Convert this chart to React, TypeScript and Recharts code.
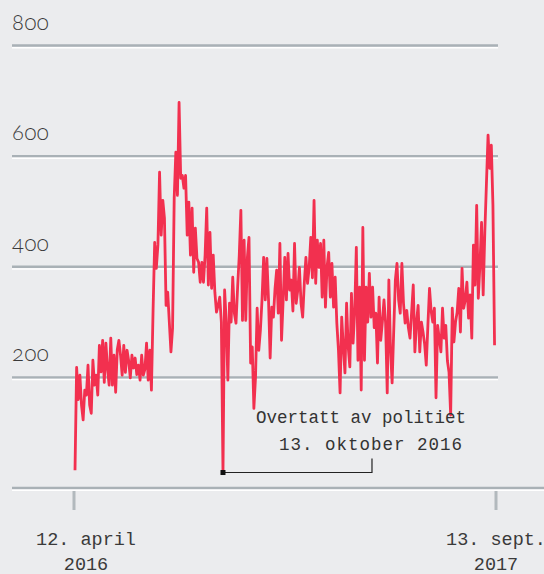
import React from 'react'
import { LineChart, Line, XAxis, YAxis, ReferenceDot, CartesianGrid } from 'recharts'

// counts, one value every second day from 12. april 2016
const STEP_DAYS = 2
const COUNTS = [
  32, 218, 160, 204, 150, 123, 177, 168, 222, 150,
  135, 231, 186, 204, 168, 258, 210, 267, 191, 262,
  215, 186, 271, 186, 240, 173, 250, 267, 240, 204,
  258, 209, 249, 230, 199, 240, 217, 235, 205, 222,
  195, 240, 204, 215, 262, 195, 249, 177, 320, 444,
  397, 440, 571, 457, 520, 488, 330, 354, 300, 246,
  289, 524, 607, 529, 697, 560, 565, 542, 565, 457,
  517, 421, 506, 390, 470, 415, 408, 372, 408, 372,
  421, 506, 367, 462, 361, 421, 354, 318, 330, 345,
  300, 28, 358, 300, 195, 334, 300, 381, 316, 298,
  363, 420, 502, 303, 448, 303, 417, 453, 226, 255,
  144, 200, 325, 249, 285, 340, 417, 340, 415, 340,
  235, 327, 309, 360, 394, 316, 442, 267, 340, 417,
  340, 424, 358, 376, 320, 442, 334, 358, 399, 334,
  309, 370, 417, 370, 399, 453, 380, 520, 370, 448,
  399, 442, 345, 448, 327, 400, 426, 345, 406, 327,
  381, 298, 250, 172, 309, 255, 208, 334, 255, 219,
  352, 262, 320, 435, 231, 363, 177, 471, 231, 363,
  300, 388, 309, 363, 290, 316, 226, 345, 267, 300,
  340, 298, 172, 376, 250, 190, 285, 376, 406, 340,
  316, 406, 334, 298, 321, 290, 271, 318, 367, 246,
  300, 330, 246, 300, 282, 260, 222, 294, 361, 320,
  300, 325, 163, 294, 270, 246, 325, 271, 294, 230,
  209, 132, 325, 264, 300, 318, 361, 282, 397, 325,
  340, 372, 307, 349, 271, 439, 367, 511, 343, 403,
  480, 349, 462, 550, 638, 578, 620, 511, 258,
]

const Y_TICKS = [0, 200, 400, 600, 800]
const X_TICK_DAYS = [0, 519]
const X_TICK_TOP = ['12. april', '13. sept.']
const X_TICK_BOTTOM = ['2016', '2017']

// 13. oktober 2016
const NOTE_DAY = 182
const NOTE_LINES = ['Overtatt av politiet', '13. oktober 2016']

const data = COUNTS.map((v, i) => ({ day: i * STEP_DAYS, v }))
const noteValue = COUNTS[NOTE_DAY / STEP_DAYS]

const RED = '#f2304f'
const GRID = '#a9b1b6'
const MONO = '"Liberation Mono", "DejaVu Sans Mono", monospace'
const GRID_LEFT = 12
const GRID_RIGHT = 498
const PLOT_BOTTOM = 488

// grid lines run out to the labels on the left; the zero line goes to the edge
function GridLine(props: any) {
  const { y1 } = props
  const right = Math.abs(y1 - PLOT_BOTTOM) < 1 ? 544 : GRID_RIGHT
  return (
    <g>
      <line x1={GRID_LEFT} x2={right} y1={y1} y2={y1} stroke={GRID} strokeWidth={2.5} />
      <line x1={GRID_LEFT} x2={right} y1={y1 + 2.2} y2={y1 + 2.2} stroke="#ffffff" strokeWidth={1.5} />
    </g>
  )
}

function YTick(props: any) {
  const { y, payload } = props
  const v = payload.value
  if (v === 0) return <g />
  return (
    <text
      x={GRID_LEFT}
      y={y - 16}
      fill="#3a3a3a"
      fontSize={22}
      fontWeight={300}
      textAnchor="start"
      style={{ fontFamily: 'Lato, "Open Sans", sans-serif', fontVariantNumeric: 'oldstyle-nums', letterSpacing: 0.5 }}
    >
      {v}
    </text>
  )
}

function XTick(props: any) {
  const { x, y, payload } = props
  const i = X_TICK_DAYS.indexOf(payload.value)
  // first label sits a little right of its tick in the original
  const cx = i === 0 ? x + 11 : x - 1
  return (
    <g>
      <line x1={x - 1} x2={x - 1} y1={y + 3} y2={y + 22} stroke="#b2b9bd" strokeWidth={3} />
      <text x={cx} y={y + 57} textAnchor="middle" fill="#3a3a3a" fontSize={18.5} style={{ fontFamily: MONO }}>
        {X_TICK_TOP[i]}
      </text>
      <text x={cx} y={y + 82} textAnchor="middle" fill="#3a3a3a" fontSize={18.5} style={{ fontFamily: MONO }}>
        {X_TICK_BOTTOM[i]}
      </text>
    </g>
  )
}

function NoteMarker(props: any) {
  const { cx, cy } = props
  const ex = cx + 149
  return (
    <g>
      <path d={`M${cx},${cy} H${ex} V${cy - 14}`} fill="none" stroke="#222" strokeWidth={1.2} />
      <rect x={cx - 2.5} y={cy - 2.5} width={5} height={5} fill="#111" />
      <text x={cx + 138} y={cy - 50} textAnchor="middle" fill="#333" fontSize={17.5} style={{ fontFamily: MONO }}>
        {NOTE_LINES[0]}
      </text>
      <text
        x={cx + 148}
        y={cy - 23}
        textAnchor="middle"
        fill="#333"
        fontSize={17.5}
        style={{ fontFamily: MONO, letterSpacing: 1 }}
      >
        {NOTE_LINES[1]}
      </text>
    </g>
  )
}

export default function App() {
  return (
    <div style={{ position: 'fixed', inset: 0, background: '#ebecee' }}>
      <LineChart
        width={544}
        height={574}
        data={data}
        margin={{ top: 45.5, right: 47, bottom: 0, left: 12 }}
      >
        <CartesianGrid vertical={false} horizontal={(p: any) => <GridLine key={p.key} {...p} />} />
        <YAxis
          type="number"
          domain={[0, 800]}
          ticks={Y_TICKS}
          width={63}
          axisLine={false}
          tickLine={false}
          tick={(p: any) => <YTick {...p} />}
          interval={0}
        />
        <XAxis
          dataKey="day"
          type="number"
          domain={[0, 519]}
          ticks={X_TICK_DAYS}
          height={86}
          axisLine={false}
          tickLine={false}
          tickSize={0}
          tickMargin={0}
          tick={(p: any) => <XTick {...p} />}
          interval={0}
        />
        <Line
          dataKey="v"
          type="linear"
          stroke={RED}
          strokeWidth={2.8}
          strokeLinejoin="round"
          dot={false}
          isAnimationActive={false}
        />
        <ReferenceDot x={NOTE_DAY} y={noteValue} shape={(p: any) => <NoteMarker {...p} />} />
      </LineChart>
    </div>
  )
}
